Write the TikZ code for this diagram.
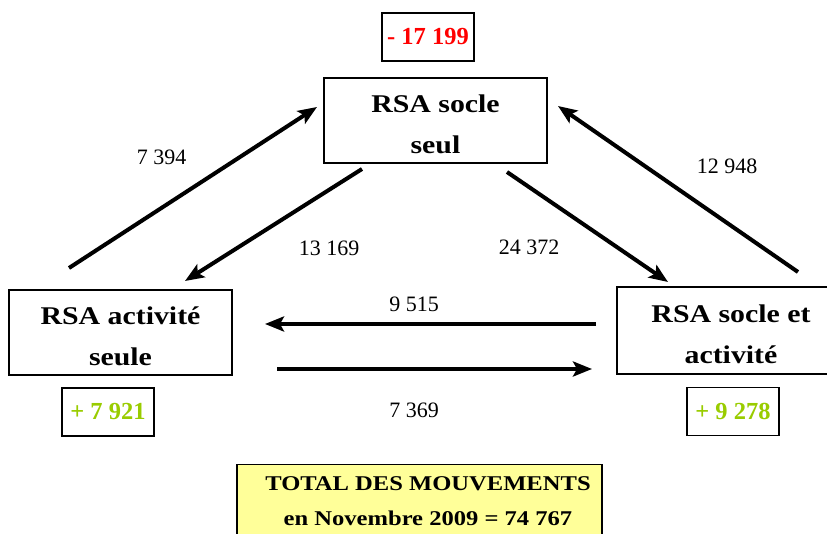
\documentclass[tikz,border=0pt]{standalone}
\usepackage{fontspec}
\setmainfont{Liberation Serif}
\newfontfamily\widefont[FakeStretch=1.17]{Liberation Serif}
\usetikzlibrary{arrows.meta}
\definecolor{deltared}{HTML}{FF0000}
\definecolor{deltagreen}{HTML}{99CC00}
\definecolor{totalfill}{HTML}{FFFF99}
\newcommand{\firstline}{\rule{0pt}{26pt}}
\begin{document}
\begin{tikzpicture}[x=1pt,y=-1pt,
  box/.style={draw, line width=1.2pt, minimum width=223pt, minimum height=85pt, inner sep=0pt, align=center},
  statelabel/.style={font=\widefont\bfseries\fontsize{25.5}{41}\selectfont},
  deltabox/.style={draw, line width=1.2pt, minimum width=92pt, minimum height=48pt, inner sep=0pt, font=\bfseries\fontsize{24.5}{29}\selectfont},
  flow/.style={line width=4pt, -{Stealth[length=19pt,width=15pt,inset=4pt]}},
  flowlabel/.style={font=\fontsize{22}{26}\selectfont, inner sep=0pt}
]
\useasboundingbox (0,0) rectangle (827,534);
\clip (0,0) rectangle (827,534);

% state boxes
\node[box, statelabel] (socle) at (435.5,120.5) {\firstline RSA socle\\seul};
\node[box, statelabel] (activite) at (120.5,332.5) {\firstline RSA activité\\seule};
\node[box, statelabel, minimum width=228pt, minimum height=87pt] (mixte) at (731,330.5) {\firstline RSA socle et\\activité};

% balance boxes
\node[deltabox, text=deltared] (dsocle) at (428,37) {- 17 199};
\node[deltabox, text=deltagreen] (dactivite) at (108,412) {+ 7 921};
\node[deltabox, text=deltagreen] (dmixte) at (733,411.5) {+ 9 278};

% total box
\node[draw, line width=1.2pt, fill=totalfill, minimum width=365pt, minimum height=100pt, anchor=north, inner sep=0pt] (total) at (419.5,464) {};
\node[font=\widefont\bfseries\fontsize{21}{35}\selectfont, align=center, inner sep=0pt] (totaltext) at (428,501) {TOTAL DES MOUVEMENTS\\en Novembre 2009 = 74 767};

% flow end points
\coordinate (f1s) at (69,268);  \coordinate (f1e) at (317,107);
\coordinate (f2s) at (362,169); \coordinate (f2e) at (185,281);
\coordinate (f3s) at (507,172); \coordinate (f3e) at (668,282);
\coordinate (f4s) at (798,272); \coordinate (f4e) at (558,106);
\coordinate (f5s) at (596,324); \coordinate (f5e) at (265,324);
\coordinate (f6s) at (277,369); \coordinate (f6e) at (592,369);

\draw[flow] (f1s) -- (f1e);
\draw[flow] (f2s) -- (f2e);
\draw[flow] (f3s) -- (f3e);
\draw[flow] (f4s) -- (f4e);
\draw[flow] (f5s) -- (f5e);
\draw[flow] (f6s) -- (f6e);

% flow labels
\node[flowlabel] (l1) at (161.5,157.5) {7 394};
\node[flowlabel] (l2) at (329,248) {13 169};
\node[flowlabel] (l3) at (529,247) {24 372};
\node[flowlabel] (l4) at (727,166.5) {12 948};
\node[flowlabel] (l5) at (414,304) {9 515};
\node[flowlabel] (l6) at (414,410) {7 369};
\end{tikzpicture}
\end{document}
